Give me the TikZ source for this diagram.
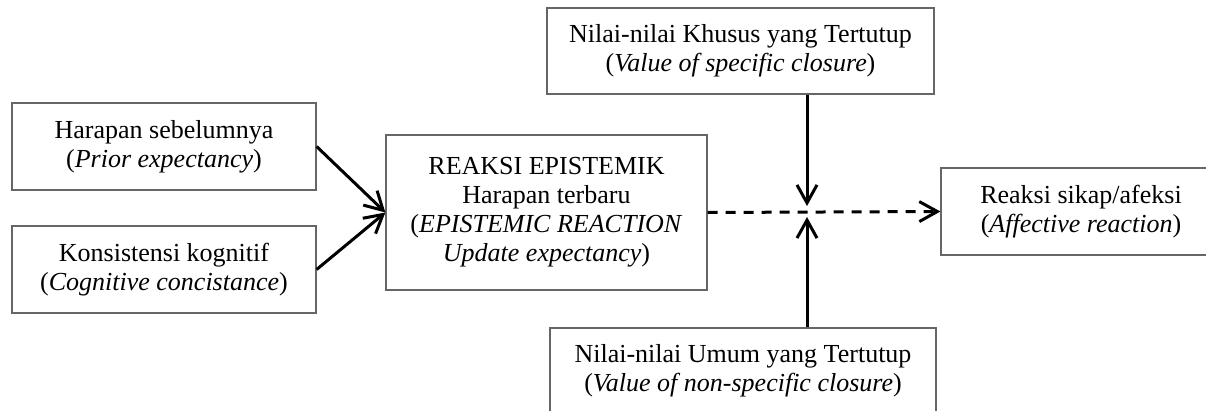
\documentclass[tikz,border=0pt]{standalone}
\usepackage{fontspec}
\setmainfont{Liberation Serif}
\usetikzlibrary{arrows.meta}

\begin{document}
\begin{tikzpicture}[x=0.5pt, y=-0.5pt,
    box/.style={draw=black!60, line width=0.6pt, align=center, inner sep=0pt,
      font=\fontsize{13}{14.5}\selectfont},
    link/.style={line width=1.5pt, -{Straight Barb[length=9pt, width=10pt]}}]
                \useasboundingbox (0,0) rectangle (1206,411);
                \node[box, minimum width=152pt, minimum height=43.5pt] (prior) at (164,146.5) {Harapan sebelumnya\\(\textit{Prior expectancy})};
                \node[box, minimum width=152pt, minimum height=43.5pt] (cogn) at (164,269.5) {Konsistensi kognitif\\(\textit{Cognitive concistance})};
                \node[box, minimum width=160.5pt, minimum height=77.5pt] (epis) at (546.5,212.5) {REAKSI EPISTEMIK\\Harapan terbaru\\(\textit{EPISTEMIC REACTION}\\\textit{Update expectancy})};
                \node[box, minimum width=193.5pt, minimum height=43pt] (spec) at (740.5,51) {Nilai-nilai Khusus yang Tertutup\\(\textit{Value of specific closure})};
                \node[box, minimum width=193pt, minimum height=43pt] (nonspec) at (743,371) {Nilai-nilai Umum yang Tertutup\\(\textit{Value of non-specific closure})};
                \node[box, minimum width=140pt, minimum height=43.5pt] (affect) at (1081,211.5) {Reaksi sikap/afeksi\\(\textit{Affective reaction})};
                \coordinate (tipdown) at (807,206);
                \coordinate (tipup) at (807,217);

                \draw[link] (prior.east) -- (epis.west);
                \draw[link] (cogn.east) -- (epis.west);
                \draw[link, dash pattern=on 5pt off 4pt] (epis.east) -- (affect.west);
                \draw[link] (spec.south -| tipdown) -- (tipdown);
                \draw[link] (nonspec.north -| tipup) -- (tipup);
            \end{tikzpicture}
\end{document}
